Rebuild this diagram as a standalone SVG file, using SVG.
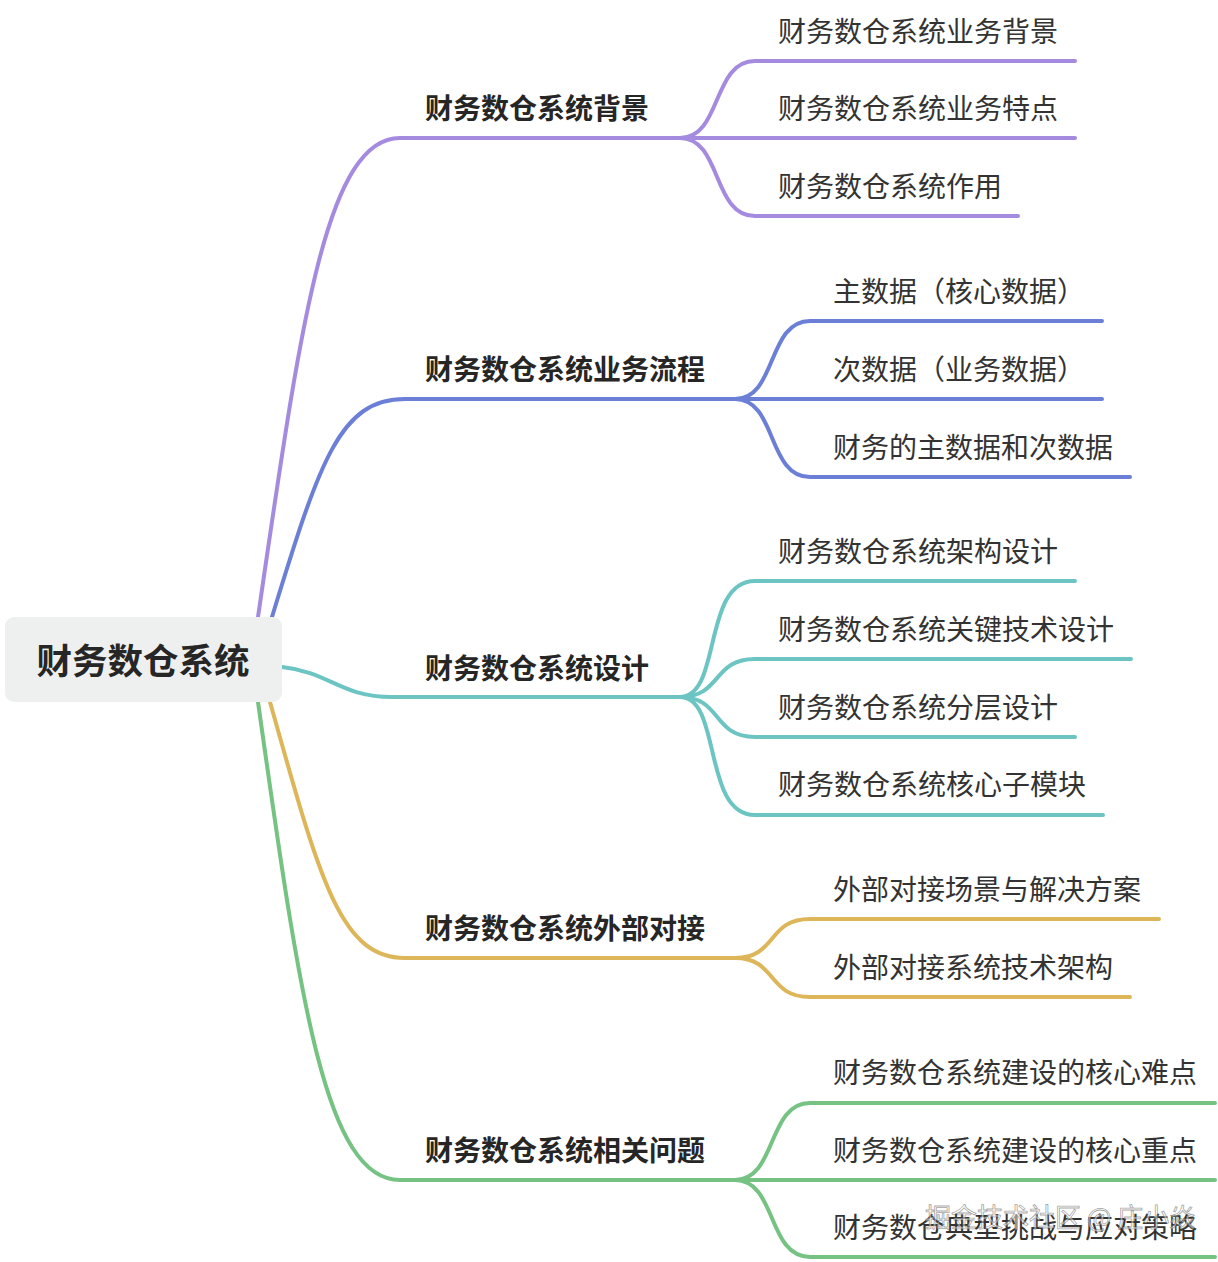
<svg xmlns="http://www.w3.org/2000/svg" width="1218" height="1262" viewBox="0 0 1218 1262">
<style>
.c{fill:none;stroke-width:4;stroke-linecap:round}
.p{stroke:#a58be0}.b{stroke:#6b7fd6}.t{stroke:#6cc5c2}.y{stroke:#ddb65a}.g{stroke:#75c283}
text{font-family:"Noto Sans CJK SC","Noto Sans",sans-serif;dominant-baseline:central}
.l1{font-size:28px;font-weight:bold;fill:#262626}
.l2{font-size:28px;fill:#333}
.root{font-size:35.5px;font-weight:bold;fill:#262626}
.wm{font-size:26px;fill:#ffffff;fill-opacity:.55;stroke:#555;stroke-opacity:.55;stroke-width:.8}
</style>
<rect width="1218" height="1262" fill="#fff"/>
<g id="connectors">
<path class="c p" d="M258,617 C300,330 325,138 400,138 H680"/>
<path class="c b" d="M272,617 C320,460 340,399 405,399 H735"/>
<path class="c t" d="M282,667 C330,672 340,697 392,697 H680"/>
<path class="c y" d="M270,702 C320,880 340,958 405,958 H735"/>
<path class="c g" d="M258,702 C300,1000 325,1180 400,1180 H735"/>
<path class="c p" d="M680,138 C722,138 712,61 755,61 H1075"/>
<path class="c p" d="M680,138 H1075"/>
<path class="c p" d="M680,138 C722,138 712,216 755,216 H1018"/>
<path class="c b" d="M735,399 C777,399 767,321 810,321 H1102"/>
<path class="c b" d="M735,399 H1102"/>
<path class="c b" d="M735,399 C777,399 767,477 810,477 H1130"/>
<path class="c t" d="M680,697 C722,697 702,581 755,581 H1075"/>
<path class="c t" d="M680,697 C722,697 712,659 755,659 H1131"/>
<path class="c t" d="M680,697 C722,697 712,737 755,737 H1075"/>
<path class="c t" d="M680,697 C722,697 702,815 755,815 H1103"/>
<path class="c y" d="M735,958 C777,958 767,919 810,919 H1159"/>
<path class="c y" d="M735,958 C777,958 767,997 810,997 H1130"/>
<path class="c g" d="M735,1180 C777,1180 767,1103 810,1103 H1215"/>
<path class="c g" d="M735,1180 H1215"/>
<path class="c g" d="M735,1180 C777,1180 767,1257 810,1257 H1215"/>
</g>
<g id="root"><rect x="5" y="617" width="277" height="85" rx="9" fill="#eef0f0"/><text class="root" x="143" y="658" text-anchor="middle">财务数仓系统</text></g>
<g id="n1"><text class="l1" x="425" y="107">财务数仓系统背景</text></g>
<g id="n1a"><text class="l2" x="778" y="30">财务数仓系统业务背景</text></g>
<g id="n1b"><text class="l2" x="778" y="107">财务数仓系统业务特点</text></g>
<g id="n1c"><text class="l2" x="778" y="185">财务数仓系统作用</text></g>
<g id="n2"><text class="l1" x="425" y="368">财务数仓系统业务流程</text></g>
<g id="n2a"><text class="l2" x="833" y="290">主数据（核心数据）</text></g>
<g id="n2b"><text class="l2" x="833" y="368">次数据（业务数据）</text></g>
<g id="n2c"><text class="l2" x="833" y="446">财务的主数据和次数据</text></g>
<g id="n3"><text class="l1" x="425" y="667">财务数仓系统设计</text></g>
<g id="n3a"><text class="l2" x="778" y="550">财务数仓系统架构设计</text></g>
<g id="n3b"><text class="l2" x="778" y="628">财务数仓系统关键技术设计</text></g>
<g id="n3c"><text class="l2" x="778" y="706">财务数仓系统分层设计</text></g>
<g id="n3d"><text class="l2" x="778" y="783">财务数仓系统核心子模块</text></g>
<g id="n4"><text class="l1" x="425" y="927">财务数仓系统外部对接</text></g>
<g id="n4a"><text class="l2" x="833" y="888">外部对接场景与解决方案</text></g>
<g id="n4b"><text class="l2" x="833" y="966">外部对接系统技术架构</text></g>
<g id="n5"><text class="l1" x="425" y="1149">财务数仓系统相关问题</text></g>
<g id="n5a"><text class="l2" x="833" y="1071">财务数仓系统建设的核心难点</text></g>
<g id="n5b"><text class="l2" x="833" y="1149">财务数仓系统建设的核心重点</text></g>
<g id="n5c"><text class="l2" x="833" y="1226">财务数仓典型挑战与应对策略</text></g>
<text class="wm" x="925" y="1215">掘金技术社区 @ 庄小焱</text>
</svg>
